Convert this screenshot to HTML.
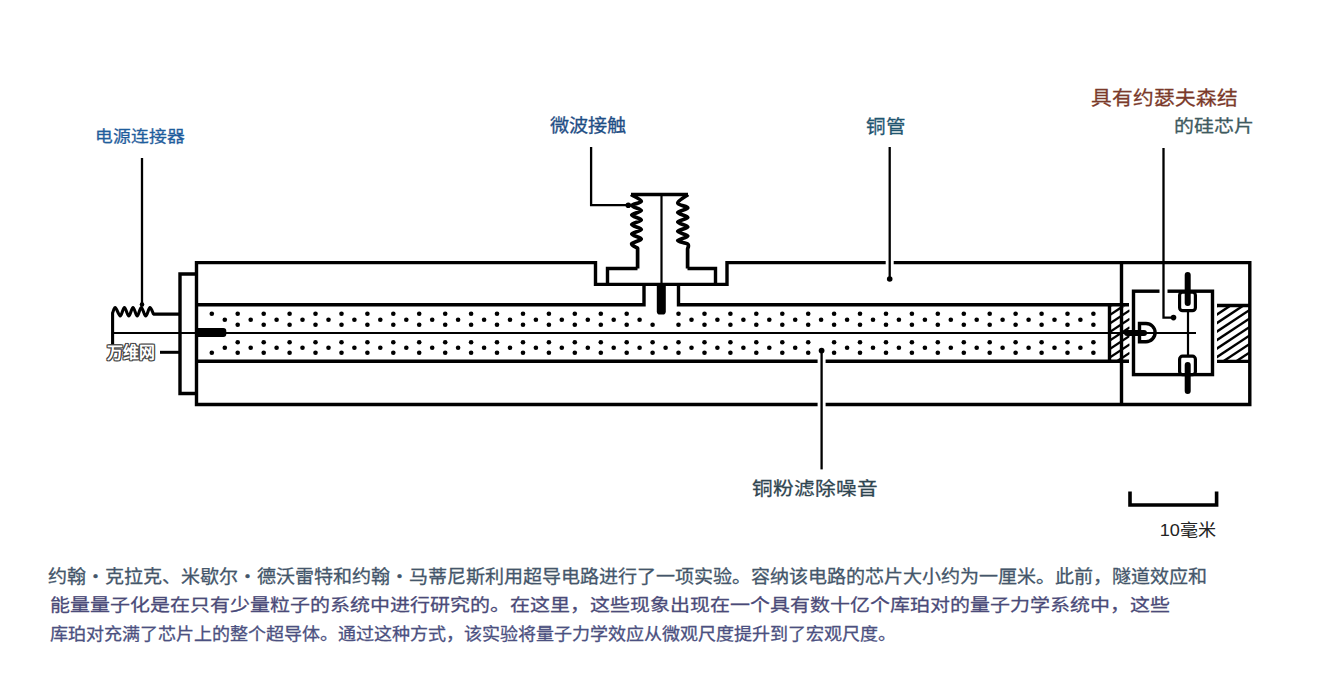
<!DOCTYPE html>
<html lang="zh-CN"><head><meta charset="utf-8">
<style>
html,body{margin:0;padding:0;background:#fff;}
body{width:1317px;height:700px;position:relative;overflow:hidden;font-family:"Liberation Sans",sans-serif;}
.l{position:absolute;white-space:nowrap;line-height:1;transform-origin:0 0;-webkit-text-stroke:0.3px currentColor;}
.wm{-webkit-text-stroke:0;text-shadow:1px 0 0 #444,-1px 0 0 #444,0 1px 0 #444,0 -1px 0 #444,1px 1px 0 #444,-1px -1px 0 #444,1px -1px 0 #444,-1px 1px 0 #444;}
svg{position:absolute;left:0;top:0;}
</style></head><body>
<svg width="1317" height="700" viewBox="0 0 1317 700">
<defs>
<clipPath id="cR"><rect x="1217" y="306.5" width="32" height="53.5"/></clipPath>
<clipPath id="cL"><rect x="1110.5" y="306.5" width="19" height="53.5"/></clipPath>
</defs>
<g fill="none" stroke="#000" stroke-width="3.4" stroke-linecap="butt" stroke-linejoin="miter">
<path d="M196.5,262.6 H595.5 V284.4 H727 V262.6 H1249.8 V404.5 H196.5 Z"/>
<path d="M196.5,274 H180 V393.5 H196.5"/>
<path d="M1121.5,262.6 V404.5"/>
<path d="M196.5,304.8 H644 V284"/>
<path d="M678.5,284 V304.8 H1129"/>
<path d="M196.5,361.3 H1129"/>
<path d="M1109.5,304.8 V361.3"/>
<path d="M1217,305.5 H1249 M1217,361.4 H1249"/>
<rect x="1133.5" y="291.2" width="79" height="83.4"/>
<path d="M607.5,284 V268.5 H637.5"/>
<path d="M715.5,284 V268.5 H687.5"/>
<path d="M631,194.5 H688"/>
<path d="M1139.5,323.5 H1146 A9.1,9.1 0 0 1 1146,341.7 H1139.5 Z"/>
</g>
<g fill="none" stroke="#000" stroke-width="2.4">
<g clip-path="url(#cR)"><line x1="1216" y1="289.60" x2="1250" y2="267.16"/><line x1="1216" y1="298.10" x2="1250" y2="275.66"/><line x1="1216" y1="306.60" x2="1250" y2="284.16"/><line x1="1216" y1="315.10" x2="1250" y2="292.66"/><line x1="1216" y1="323.60" x2="1250" y2="301.16"/><line x1="1216" y1="332.10" x2="1250" y2="309.66"/><line x1="1216" y1="340.60" x2="1250" y2="318.16"/><line x1="1216" y1="349.10" x2="1250" y2="326.66"/><line x1="1216" y1="357.60" x2="1250" y2="335.16"/><line x1="1216" y1="366.10" x2="1250" y2="343.66"/><line x1="1216" y1="374.60" x2="1250" y2="352.16"/><line x1="1216" y1="383.10" x2="1250" y2="360.66"/></g>
<g clip-path="url(#cL)"><line x1="1109" y1="290.00" x2="1130" y2="276.14"/><line x1="1109" y1="298.50" x2="1130" y2="284.64"/><line x1="1109" y1="307.00" x2="1130" y2="293.14"/><line x1="1109" y1="315.50" x2="1130" y2="301.64"/><line x1="1109" y1="324.00" x2="1130" y2="310.14"/><line x1="1109" y1="332.50" x2="1130" y2="318.64"/><line x1="1109" y1="341.00" x2="1130" y2="327.14"/><line x1="1109" y1="349.50" x2="1130" y2="335.64"/><line x1="1109" y1="358.00" x2="1130" y2="344.14"/><line x1="1109" y1="366.50" x2="1130" y2="352.64"/></g>
</g>
<g fill="#000"><circle cx="211.8" cy="313.8" r="2.3"/><circle cx="211.8" cy="352.8" r="2.3"/><circle cx="237.7" cy="313.8" r="2.3"/><circle cx="237.7" cy="324.8" r="2.3"/><circle cx="237.7" cy="342.2" r="2.3"/><circle cx="237.7" cy="352.8" r="2.3"/><circle cx="263.7" cy="313.8" r="2.3"/><circle cx="263.7" cy="324.8" r="2.3"/><circle cx="263.7" cy="342.2" r="2.3"/><circle cx="263.7" cy="352.8" r="2.3"/><circle cx="289.6" cy="313.8" r="2.3"/><circle cx="289.6" cy="324.8" r="2.3"/><circle cx="289.6" cy="342.2" r="2.3"/><circle cx="289.6" cy="352.8" r="2.3"/><circle cx="315.5" cy="313.8" r="2.3"/><circle cx="315.5" cy="324.8" r="2.3"/><circle cx="315.5" cy="342.2" r="2.3"/><circle cx="315.5" cy="352.8" r="2.3"/><circle cx="341.5" cy="313.8" r="2.3"/><circle cx="341.5" cy="324.8" r="2.3"/><circle cx="341.5" cy="342.2" r="2.3"/><circle cx="341.5" cy="352.8" r="2.3"/><circle cx="367.4" cy="313.8" r="2.3"/><circle cx="367.4" cy="324.8" r="2.3"/><circle cx="367.4" cy="342.2" r="2.3"/><circle cx="367.4" cy="352.8" r="2.3"/><circle cx="393.3" cy="313.8" r="2.3"/><circle cx="393.3" cy="324.8" r="2.3"/><circle cx="393.3" cy="342.2" r="2.3"/><circle cx="393.3" cy="352.8" r="2.3"/><circle cx="419.2" cy="313.8" r="2.3"/><circle cx="419.2" cy="324.8" r="2.3"/><circle cx="419.2" cy="342.2" r="2.3"/><circle cx="419.2" cy="352.8" r="2.3"/><circle cx="445.2" cy="313.8" r="2.3"/><circle cx="445.2" cy="324.8" r="2.3"/><circle cx="445.2" cy="342.2" r="2.3"/><circle cx="445.2" cy="352.8" r="2.3"/><circle cx="471.1" cy="313.8" r="2.3"/><circle cx="471.1" cy="324.8" r="2.3"/><circle cx="471.1" cy="342.2" r="2.3"/><circle cx="471.1" cy="352.8" r="2.3"/><circle cx="497.0" cy="313.8" r="2.3"/><circle cx="497.0" cy="324.8" r="2.3"/><circle cx="497.0" cy="342.2" r="2.3"/><circle cx="497.0" cy="352.8" r="2.3"/><circle cx="523.0" cy="313.8" r="2.3"/><circle cx="523.0" cy="324.8" r="2.3"/><circle cx="523.0" cy="342.2" r="2.3"/><circle cx="523.0" cy="352.8" r="2.3"/><circle cx="548.9" cy="313.8" r="2.3"/><circle cx="548.9" cy="324.8" r="2.3"/><circle cx="548.9" cy="342.2" r="2.3"/><circle cx="548.9" cy="352.8" r="2.3"/><circle cx="574.8" cy="313.8" r="2.3"/><circle cx="574.8" cy="324.8" r="2.3"/><circle cx="574.8" cy="342.2" r="2.3"/><circle cx="574.8" cy="352.8" r="2.3"/><circle cx="600.8" cy="313.8" r="2.3"/><circle cx="600.8" cy="324.8" r="2.3"/><circle cx="600.8" cy="342.2" r="2.3"/><circle cx="600.8" cy="352.8" r="2.3"/><circle cx="626.7" cy="313.8" r="2.3"/><circle cx="626.7" cy="324.8" r="2.3"/><circle cx="626.7" cy="342.2" r="2.3"/><circle cx="626.7" cy="352.8" r="2.3"/><circle cx="652.6" cy="324.8" r="2.3"/><circle cx="652.6" cy="342.2" r="2.3"/><circle cx="652.6" cy="352.8" r="2.3"/><circle cx="678.5" cy="313.8" r="2.3"/><circle cx="678.5" cy="324.8" r="2.3"/><circle cx="678.5" cy="342.2" r="2.3"/><circle cx="678.5" cy="352.8" r="2.3"/><circle cx="704.5" cy="313.8" r="2.3"/><circle cx="704.5" cy="324.8" r="2.3"/><circle cx="704.5" cy="342.2" r="2.3"/><circle cx="704.5" cy="352.8" r="2.3"/><circle cx="730.4" cy="313.8" r="2.3"/><circle cx="730.4" cy="324.8" r="2.3"/><circle cx="730.4" cy="342.2" r="2.3"/><circle cx="730.4" cy="352.8" r="2.3"/><circle cx="756.3" cy="313.8" r="2.3"/><circle cx="756.3" cy="324.8" r="2.3"/><circle cx="756.3" cy="342.2" r="2.3"/><circle cx="756.3" cy="352.8" r="2.3"/><circle cx="782.3" cy="313.8" r="2.3"/><circle cx="782.3" cy="324.8" r="2.3"/><circle cx="782.3" cy="342.2" r="2.3"/><circle cx="782.3" cy="352.8" r="2.3"/><circle cx="808.2" cy="313.8" r="2.3"/><circle cx="808.2" cy="324.8" r="2.3"/><circle cx="808.2" cy="342.2" r="2.3"/><circle cx="808.2" cy="352.8" r="2.3"/><circle cx="834.1" cy="313.8" r="2.3"/><circle cx="834.1" cy="324.8" r="2.3"/><circle cx="834.1" cy="342.2" r="2.3"/><circle cx="834.1" cy="352.8" r="2.3"/><circle cx="860.0" cy="313.8" r="2.3"/><circle cx="860.0" cy="324.8" r="2.3"/><circle cx="860.0" cy="342.2" r="2.3"/><circle cx="860.0" cy="352.8" r="2.3"/><circle cx="886.0" cy="313.8" r="2.3"/><circle cx="886.0" cy="324.8" r="2.3"/><circle cx="886.0" cy="342.2" r="2.3"/><circle cx="886.0" cy="352.8" r="2.3"/><circle cx="911.9" cy="313.8" r="2.3"/><circle cx="911.9" cy="324.8" r="2.3"/><circle cx="911.9" cy="342.2" r="2.3"/><circle cx="911.9" cy="352.8" r="2.3"/><circle cx="937.8" cy="313.8" r="2.3"/><circle cx="937.8" cy="324.8" r="2.3"/><circle cx="937.8" cy="342.2" r="2.3"/><circle cx="937.8" cy="352.8" r="2.3"/><circle cx="963.8" cy="313.8" r="2.3"/><circle cx="963.8" cy="324.8" r="2.3"/><circle cx="963.8" cy="342.2" r="2.3"/><circle cx="963.8" cy="352.8" r="2.3"/><circle cx="989.7" cy="313.8" r="2.3"/><circle cx="989.7" cy="324.8" r="2.3"/><circle cx="989.7" cy="342.2" r="2.3"/><circle cx="989.7" cy="352.8" r="2.3"/><circle cx="1015.6" cy="313.8" r="2.3"/><circle cx="1015.6" cy="324.8" r="2.3"/><circle cx="1015.6" cy="342.2" r="2.3"/><circle cx="1015.6" cy="352.8" r="2.3"/><circle cx="1041.6" cy="313.8" r="2.3"/><circle cx="1041.6" cy="324.8" r="2.3"/><circle cx="1041.6" cy="342.2" r="2.3"/><circle cx="1041.6" cy="352.8" r="2.3"/><circle cx="1067.5" cy="313.8" r="2.3"/><circle cx="1067.5" cy="324.8" r="2.3"/><circle cx="1067.5" cy="342.2" r="2.3"/><circle cx="1067.5" cy="352.8" r="2.3"/><circle cx="1093.4" cy="313.8" r="2.3"/><circle cx="1093.4" cy="324.8" r="2.3"/><circle cx="1093.4" cy="342.2" r="2.3"/><circle cx="1093.4" cy="352.8" r="2.3"/><circle cx="224.8" cy="319.7" r="2.3"/><circle cx="224.8" cy="347.8" r="2.3"/><circle cx="250.7" cy="319.7" r="2.3"/><circle cx="250.7" cy="347.8" r="2.3"/><circle cx="276.6" cy="319.7" r="2.3"/><circle cx="276.6" cy="347.8" r="2.3"/><circle cx="302.5" cy="319.7" r="2.3"/><circle cx="302.5" cy="347.8" r="2.3"/><circle cx="328.5" cy="319.7" r="2.3"/><circle cx="328.5" cy="347.8" r="2.3"/><circle cx="354.4" cy="319.7" r="2.3"/><circle cx="354.4" cy="347.8" r="2.3"/><circle cx="380.3" cy="319.7" r="2.3"/><circle cx="380.3" cy="347.8" r="2.3"/><circle cx="406.3" cy="319.7" r="2.3"/><circle cx="406.3" cy="347.8" r="2.3"/><circle cx="432.2" cy="319.7" r="2.3"/><circle cx="432.2" cy="347.8" r="2.3"/><circle cx="458.1" cy="319.7" r="2.3"/><circle cx="458.1" cy="347.8" r="2.3"/><circle cx="484.1" cy="319.7" r="2.3"/><circle cx="484.1" cy="347.8" r="2.3"/><circle cx="510.0" cy="319.7" r="2.3"/><circle cx="510.0" cy="347.8" r="2.3"/><circle cx="535.9" cy="319.7" r="2.3"/><circle cx="535.9" cy="347.8" r="2.3"/><circle cx="561.8" cy="319.7" r="2.3"/><circle cx="561.8" cy="347.8" r="2.3"/><circle cx="587.8" cy="319.7" r="2.3"/><circle cx="587.8" cy="347.8" r="2.3"/><circle cx="613.7" cy="319.7" r="2.3"/><circle cx="613.7" cy="347.8" r="2.3"/><circle cx="639.6" cy="319.7" r="2.3"/><circle cx="639.6" cy="347.8" r="2.3"/><circle cx="665.6" cy="347.8" r="2.3"/><circle cx="691.5" cy="319.7" r="2.3"/><circle cx="691.5" cy="347.8" r="2.3"/><circle cx="717.4" cy="319.7" r="2.3"/><circle cx="717.4" cy="347.8" r="2.3"/><circle cx="743.4" cy="319.7" r="2.3"/><circle cx="743.4" cy="347.8" r="2.3"/><circle cx="769.3" cy="319.7" r="2.3"/><circle cx="769.3" cy="347.8" r="2.3"/><circle cx="795.2" cy="319.7" r="2.3"/><circle cx="795.2" cy="347.8" r="2.3"/><circle cx="821.1" cy="319.7" r="2.3"/><circle cx="847.1" cy="319.7" r="2.3"/><circle cx="847.1" cy="347.8" r="2.3"/><circle cx="873.0" cy="319.7" r="2.3"/><circle cx="873.0" cy="347.8" r="2.3"/><circle cx="898.9" cy="319.7" r="2.3"/><circle cx="898.9" cy="347.8" r="2.3"/><circle cx="924.9" cy="319.7" r="2.3"/><circle cx="924.9" cy="347.8" r="2.3"/><circle cx="950.8" cy="319.7" r="2.3"/><circle cx="950.8" cy="347.8" r="2.3"/><circle cx="976.7" cy="319.7" r="2.3"/><circle cx="976.7" cy="347.8" r="2.3"/><circle cx="1002.6" cy="319.7" r="2.3"/><circle cx="1002.6" cy="347.8" r="2.3"/><circle cx="1028.6" cy="319.7" r="2.3"/><circle cx="1028.6" cy="347.8" r="2.3"/><circle cx="1054.5" cy="319.7" r="2.3"/><circle cx="1054.5" cy="347.8" r="2.3"/><circle cx="1080.4" cy="319.7" r="2.3"/><circle cx="1080.4" cy="347.8" r="2.3"/></g>
<g fill="none" stroke="#000" stroke-width="2.2">
<path d="M113,333 H1196"/>
<path d="M661.5,195 V284"/>
<path d="M1188,310 V357"/>
</g>
<g stroke="#000" stroke-linecap="round" fill="none">
<path d="M1127,333 H1144" stroke-width="6"/>
</g>
<path d="M198,328.1 H223.3 Q226.3,328.1 226.3,331.1 V334.1 Q226.3,337.1 223.3,337.1 H198 Z" fill="#000"/>
<path d="M656.8,284 V311.5 Q656.8,314.6 659.9,314.6 H662.7 Q665.8,314.6 665.8,311.5 V284 Z" fill="#000"/>
<!-- JJs -->
<g stroke="#000" stroke-width="3.2" fill="#fff">
<rect x="1179.6" y="292.2" width="15.8" height="18.5" rx="3"/>
<rect x="1179.6" y="356.2" width="15.8" height="18.5" rx="3"/>
</g>
<g stroke="#000" stroke-linecap="round" fill="none" stroke-width="6">
<path d="M1187.7,275 V303"/>
<path d="M1187.7,365 V391"/>
</g>
<g fill="none" stroke="#000" stroke-width="3.7" stroke-linejoin="round">
<path d="M631.00,194.50 C632.72,195.62 641.18,199.35 641.30,201.20 C641.42,203.05 631.70,204.03 631.70,205.60 C631.70,207.17 641.30,209.02 641.30,210.60 C641.30,212.18 631.70,213.53 631.70,215.10 C631.70,216.67 641.30,218.42 641.30,220.00 C641.30,221.58 631.70,223.02 631.70,224.60 C631.70,226.18 641.30,227.92 641.30,229.50 C641.30,231.08 631.70,232.52 631.70,234.10 C631.70,235.68 641.30,237.38 641.30,239.00 C641.30,240.62 632.32,242.27 631.70,243.80 C631.08,245.33 636.62,247.47 637.60,248.20 V268.5"/>
<path d="M688.00,194.50 C686.28,195.92 677.73,200.77 677.70,203.00 C677.67,205.23 687.80,206.32 687.80,207.90 C687.80,209.48 677.70,210.92 677.70,212.50 C677.70,214.08 687.80,215.82 687.80,217.40 C687.80,218.98 677.70,220.42 677.70,222.00 C677.70,223.58 687.80,225.35 687.80,226.90 C687.80,228.45 677.70,229.77 677.70,231.30 C677.70,232.83 687.80,234.55 687.80,236.10 C687.80,237.65 677.70,239.25 677.70,240.60 C677.70,241.95 686.15,242.80 687.80,244.20 C689.45,245.60 687.63,248.20 687.60,249.00 V268.5"/>
<path d="M112.6,345 V313  C113.07,312.10 114.13,307.10 115.40,307.60 C116.67,308.10 118.70,316.00 120.20,316.00 C121.70,316.00 122.97,307.60 124.40,307.60 C125.83,307.60 127.37,316.00 128.80,316.00 C130.23,316.00 131.60,307.60 133.00,307.60 C134.40,307.60 135.82,316.00 137.20,316.00 C138.58,316.00 139.88,307.60 141.30,307.60 C142.72,307.60 144.27,316.00 145.70,316.00 C147.13,316.00 148.60,307.92 149.90,307.60 C151.20,307.28 152.90,313.02 153.50,314.10 H180" stroke-width="3.1"/>
</g>
<!-- leaders with white halo -->
<g fill="none" stroke="#fff" stroke-width="8">
<path d="M889.7,257 V268"/>
<path d="M1163.5,285 V297"/>
<path d="M821.6,355 V410"/>
</g>
<g fill="none" stroke="#000" stroke-width="2.3">
<path d="M142,158 V305"/>
<path d="M591.1,147 V205.2 H628"/>
<path d="M889.7,147 V279"/>
<path d="M1163.5,148 V317.6 H1173.5"/>
<path d="M821.6,350.6 V469.4"/>
</g>
<g fill="#000">
<circle cx="142" cy="304.6" r="2.3"/>
<circle cx="628.3" cy="205.2" r="2.8"/>
<circle cx="889.7" cy="279" r="2.8"/>
<circle cx="1173.5" cy="317.6" r="2.8"/>
<circle cx="821.6" cy="350.6" r="2.9"/>
</g>
<!-- scale bar -->
<path d="M1130,491.4 V505 H1216.6 V491.4" fill="none" stroke="#000" stroke-width="3.6"/>
<!-- small wire to 万维网 -->
<path d="M160,352.3 H180" stroke="#000" stroke-width="3"/>
</svg>
<div class="l" style="left:94.8px;top:130.0px;font-size:17.80px;color:#1f5d9c;transform:scaleY(0.878);">电源连接器</div>
<div class="l" style="left:550.0px;top:117.4px;font-size:19.16px;color:#1f4e85;transform:scaleY(0.937);">微波接触</div>
<div class="l" style="left:866.4px;top:117.6px;font-size:19.53px;color:#1f5570;transform:scaleY(0.947);">铜管</div>
<div class="l" style="left:1091.0px;top:89.4px;font-size:20.70px;color:#7b3a2a;transform:scaleY(0.935);">具有约瑟夫森结</div>
<div class="l" style="left:1173.6px;top:118.2px;font-size:19.97px;color:#3e5a60;transform:scaleY(0.851);">的硅芯片</div>
<div class="l" style="left:752.0px;top:480.0px;font-size:20.65px;color:#2f4550;transform:scaleY(0.867);">铜粉滤除噪音</div>
<div class="l" style="left:1159.8px;top:522.0px;font-size:18.11px;color:#222222;transform:scaleY(0.911);-webkit-text-stroke:0;">10毫米</div>
<div class="l wm" style="left:107.2px;top:344.6px;font-size:15.90px;color:#ffffff;transform:scaleY(1.000);font-weight:700;">万维网</div>
<div class="l" style="left:47.8px;top:568.1px;font-size:19.04px;color:#44566a;transform:scaleY(0.927);">约翰・克拉克、米歇尔・德沃雷特和约翰・马蒂尼斯利用超导电路进行了一项实验。容纳该电路的芯片大小约为一厘米。此前，隧道效应和</div>
<div class="l" style="left:50.4px;top:596.0px;font-size:19.99px;color:#4a4a78;transform:scaleY(0.880);">能量量子化是在只有少量粒子的系统中进行研究的。在这里，这些现象出现在一个具有数十亿个库珀对的量子力学系统中，这些</div>
<div class="l" style="left:50.2px;top:626.3px;font-size:18.03px;color:#4b5080;transform:scaleY(0.934);">库珀对充满了芯片上的整个超导体。通过这种方式，该实验将量子力学效应从微观尺度提升到了宏观尺度。</div>
</body></html>
